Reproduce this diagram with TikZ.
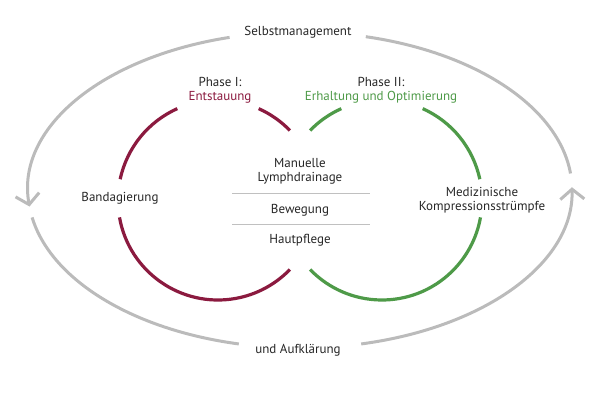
\documentclass[tikz,border=0pt]{standalone}
\usepackage{fontspec}
\setmainfont{PT Sans}
\usetikzlibrary{arrows.meta}
\definecolor{rd}{HTML}{8B1A3F}
\definecolor{gn}{HTML}{4E9A48}
\definecolor{gy}{HTML}{BBBBBB}
\begin{document}
\begin{tikzpicture}[x=1pt,y=1pt,
 lab/.style={font=\fontsize{13}{15}\selectfont, align=center, text=black!85},
 outer/.style={gy, line width=3pt},
 tip/.style={-{Straight Barb[length=10pt,width=24pt,line width=3pt]}},
 ring/.style={line width=3.2pt}]
\useasboundingbox (0,0) rectangle (600,400);
% outer cycle
\coordinate (O) at (300,210);
\draw[outer,tip] ([shift={(105:272 and 158)}]O) arc[start angle=105,end angle=186,x radius=272,y radius=158];
\draw[outer] ([shift={(190:272 and 158)}]O) arc[start angle=190,end angle=257,x radius=272,y radius=158];
\draw[outer,tip] ([shift={(283:272 and 158)}]O) arc[start angle=283,end angle=361,x radius=272,y radius=158];
\draw[outer] ([shift={(6:272 and 158)}]O) arc[start angle=6,end angle=76,x radius=272,y radius=158];
% circles
\coordinate (L) at (218,200);
\coordinate (R) at (382,200);
\draw[ring,rd] ([shift={(44:100)}]L) arc[start angle=44,end angle=66,radius=100];
\draw[ring,rd] ([shift={(114:100)}]L) arc[start angle=114,end angle=168,radius=100];
\draw[ring,rd] ([shift={(190:100)}]L) arc[start angle=190,end angle=316,radius=100];
\draw[ring,gn] ([shift={(114:100)}]R) arc[start angle=114,end angle=136,radius=100];
\draw[ring,gn] ([shift={(12:100)}]R) arc[start angle=12,end angle=66,radius=100];
\draw[ring,gn] ([shift={(224:100)}]R) arc[start angle=224,end angle=350,radius=100];
% texts
\node[lab] (sm) at (298,368) {Selbstmanagement};
\node[lab] (ua) at (298,50) {und Aufklärung};
\node[lab] (p1) at (220,310) {Phase I:\\[-1pt]\textcolor{rd}{Entstauung}};
\node[lab] (p2) at (381,310) {Phase II:\\[-1pt]\textcolor{gn}{Erhaltung und Optimierung}};
\node[lab] (ba) at (120,202) {Bandagierung};
\node[lab] (mk) at (482,200) {Medizinische\\[-1pt]Kompressionsstrümpfe};
\node[lab] (ml) at (300,229) {Manuelle\\[-1pt]Lymphdrainage};
\node[lab] (bw) at (300,190) {Bewegung};
\node[lab] (hp) at (300,160) {Hautpflege};
\coordinate (a1) at (232,207); \coordinate (a2) at (370,207);
\coordinate (b1) at (232,176); \coordinate (b2) at (370,176);
\draw[gy!80!black!60, line width=0.8pt] (a1) -- (a2);
\draw[gy!80!black!60, line width=0.8pt] (b1) -- (b2);
\end{tikzpicture}
\end{document}
